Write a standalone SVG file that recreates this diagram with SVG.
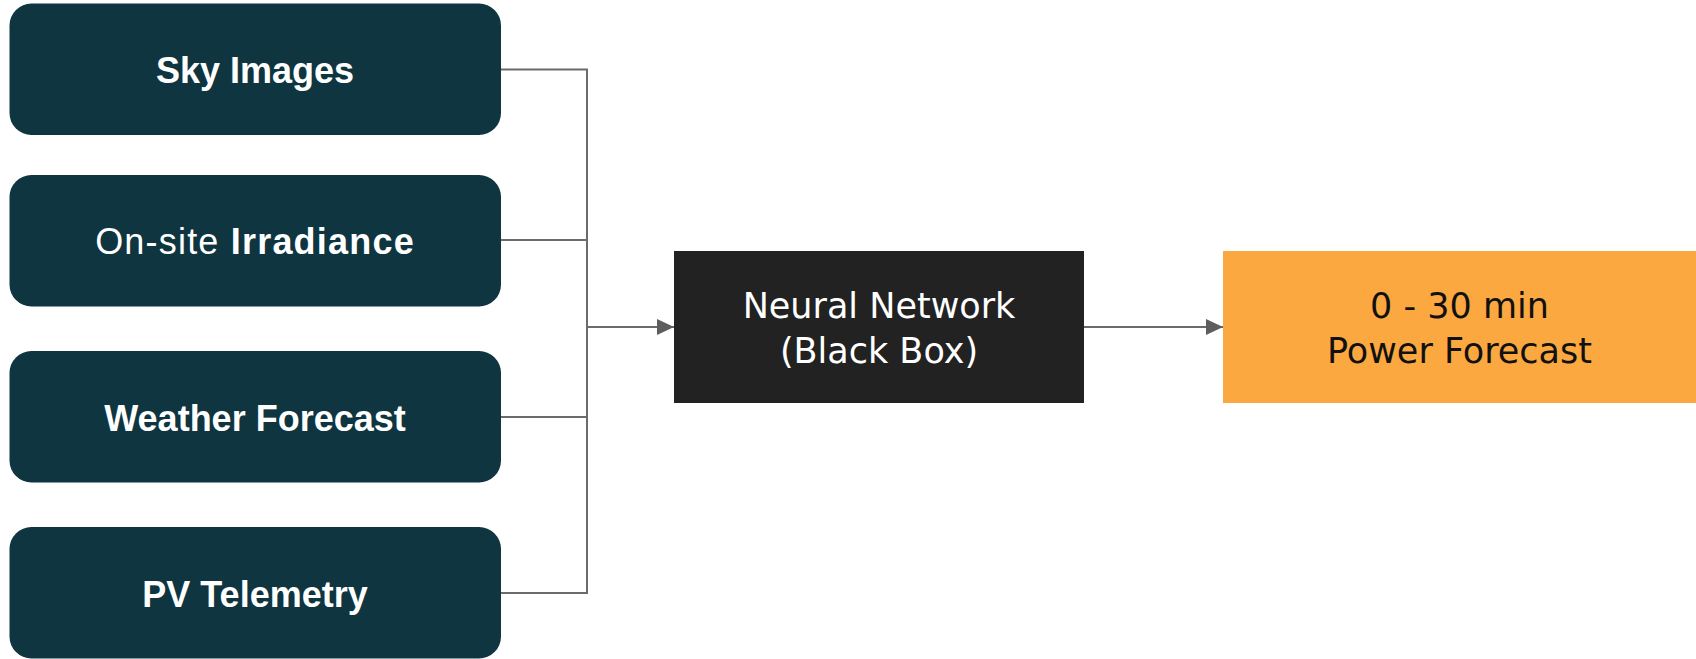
<svg xmlns="http://www.w3.org/2000/svg" width="1696" height="659" viewBox="0 0 1696 659">
  <defs>
    <style>
      .src rect { fill: #0e3540; }
      .src text { fill: #ffffff; font-family: "Liberation Sans", Arial, sans-serif; font-size: 36px; font-weight: bold; text-anchor: middle; }
      .src .lt { font-weight: normal; }
      .src .wide { letter-spacing: 1.2px; }
      .lbl { font-family: "DejaVu Sans", "Liberation Sans", sans-serif; font-size: 35px; text-anchor: middle; }
      .wire { fill: none; stroke: #6b6b6b; stroke-width: 2; }
    </style>
    <marker id="arrow" markerUnits="userSpaceOnUse" markerWidth="17" markerHeight="16" refX="17" refY="8" orient="auto" overflow="visible">
      <path d="M0,0 L17,8 L0,16 Z" fill="#5e5e5e"/>
    </marker>
  </defs>

  <rect width="1696" height="659" fill="#ffffff"/>

  <!-- connectors -->
  <g id="connectors">
    <path class="wire" d="M501,69.5 H587 V593 H501"/>
    <path class="wire" d="M501,240 H587"/>
    <path class="wire" d="M501,417 H587"/>
    <path class="wire" d="M587,327 H674" marker-end="url(#arrow)"/>
    <path class="wire" d="M1084,327 H1223" marker-end="url(#arrow)"/>
  </g>

  <!-- input sources -->
  <g id="sky-images" class="src">
    <rect x="9.5" y="3.5" width="491.5" height="131.5" rx="22" ry="22"/>
    <text x="255" y="83">Sky Images</text>
  </g>
  <g id="onsite-irradiance" class="src">
    <rect x="9.5" y="175" width="491.5" height="131.5" rx="22" ry="22"/>
    <text class="wide" x="255" y="254"><tspan class="lt">On-site </tspan>Irradiance</text>
  </g>
  <g id="weather-forecast" class="src">
    <rect x="9.5" y="351" width="491.5" height="131.5" rx="22" ry="22"/>
    <text x="255" y="431">Weather Forecast</text>
  </g>
  <g id="pv-telemetry" class="src">
    <rect x="9.5" y="527" width="491.5" height="131.5" rx="22" ry="22"/>
    <text x="255" y="607">PV Telemetry</text>
  </g>

  <!-- model -->
  <g id="neural-network">
    <rect x="674" y="251" width="410" height="152" fill="#222222"/>
    <text class="lbl" x="879" y="318" fill="#ffffff">Neural Network</text>
    <text class="lbl" x="879" y="363" fill="#ffffff">(Black Box)</text>
  </g>

  <!-- output -->
  <g id="power-forecast">
    <rect x="1223" y="251" width="473" height="152" fill="#fca841"/>
    <text class="lbl" x="1459.5" y="318" fill="#111111">0 - 30 min</text>
    <text class="lbl" x="1459.5" y="363" fill="#111111">Power Forecast</text>
  </g>
</svg>
